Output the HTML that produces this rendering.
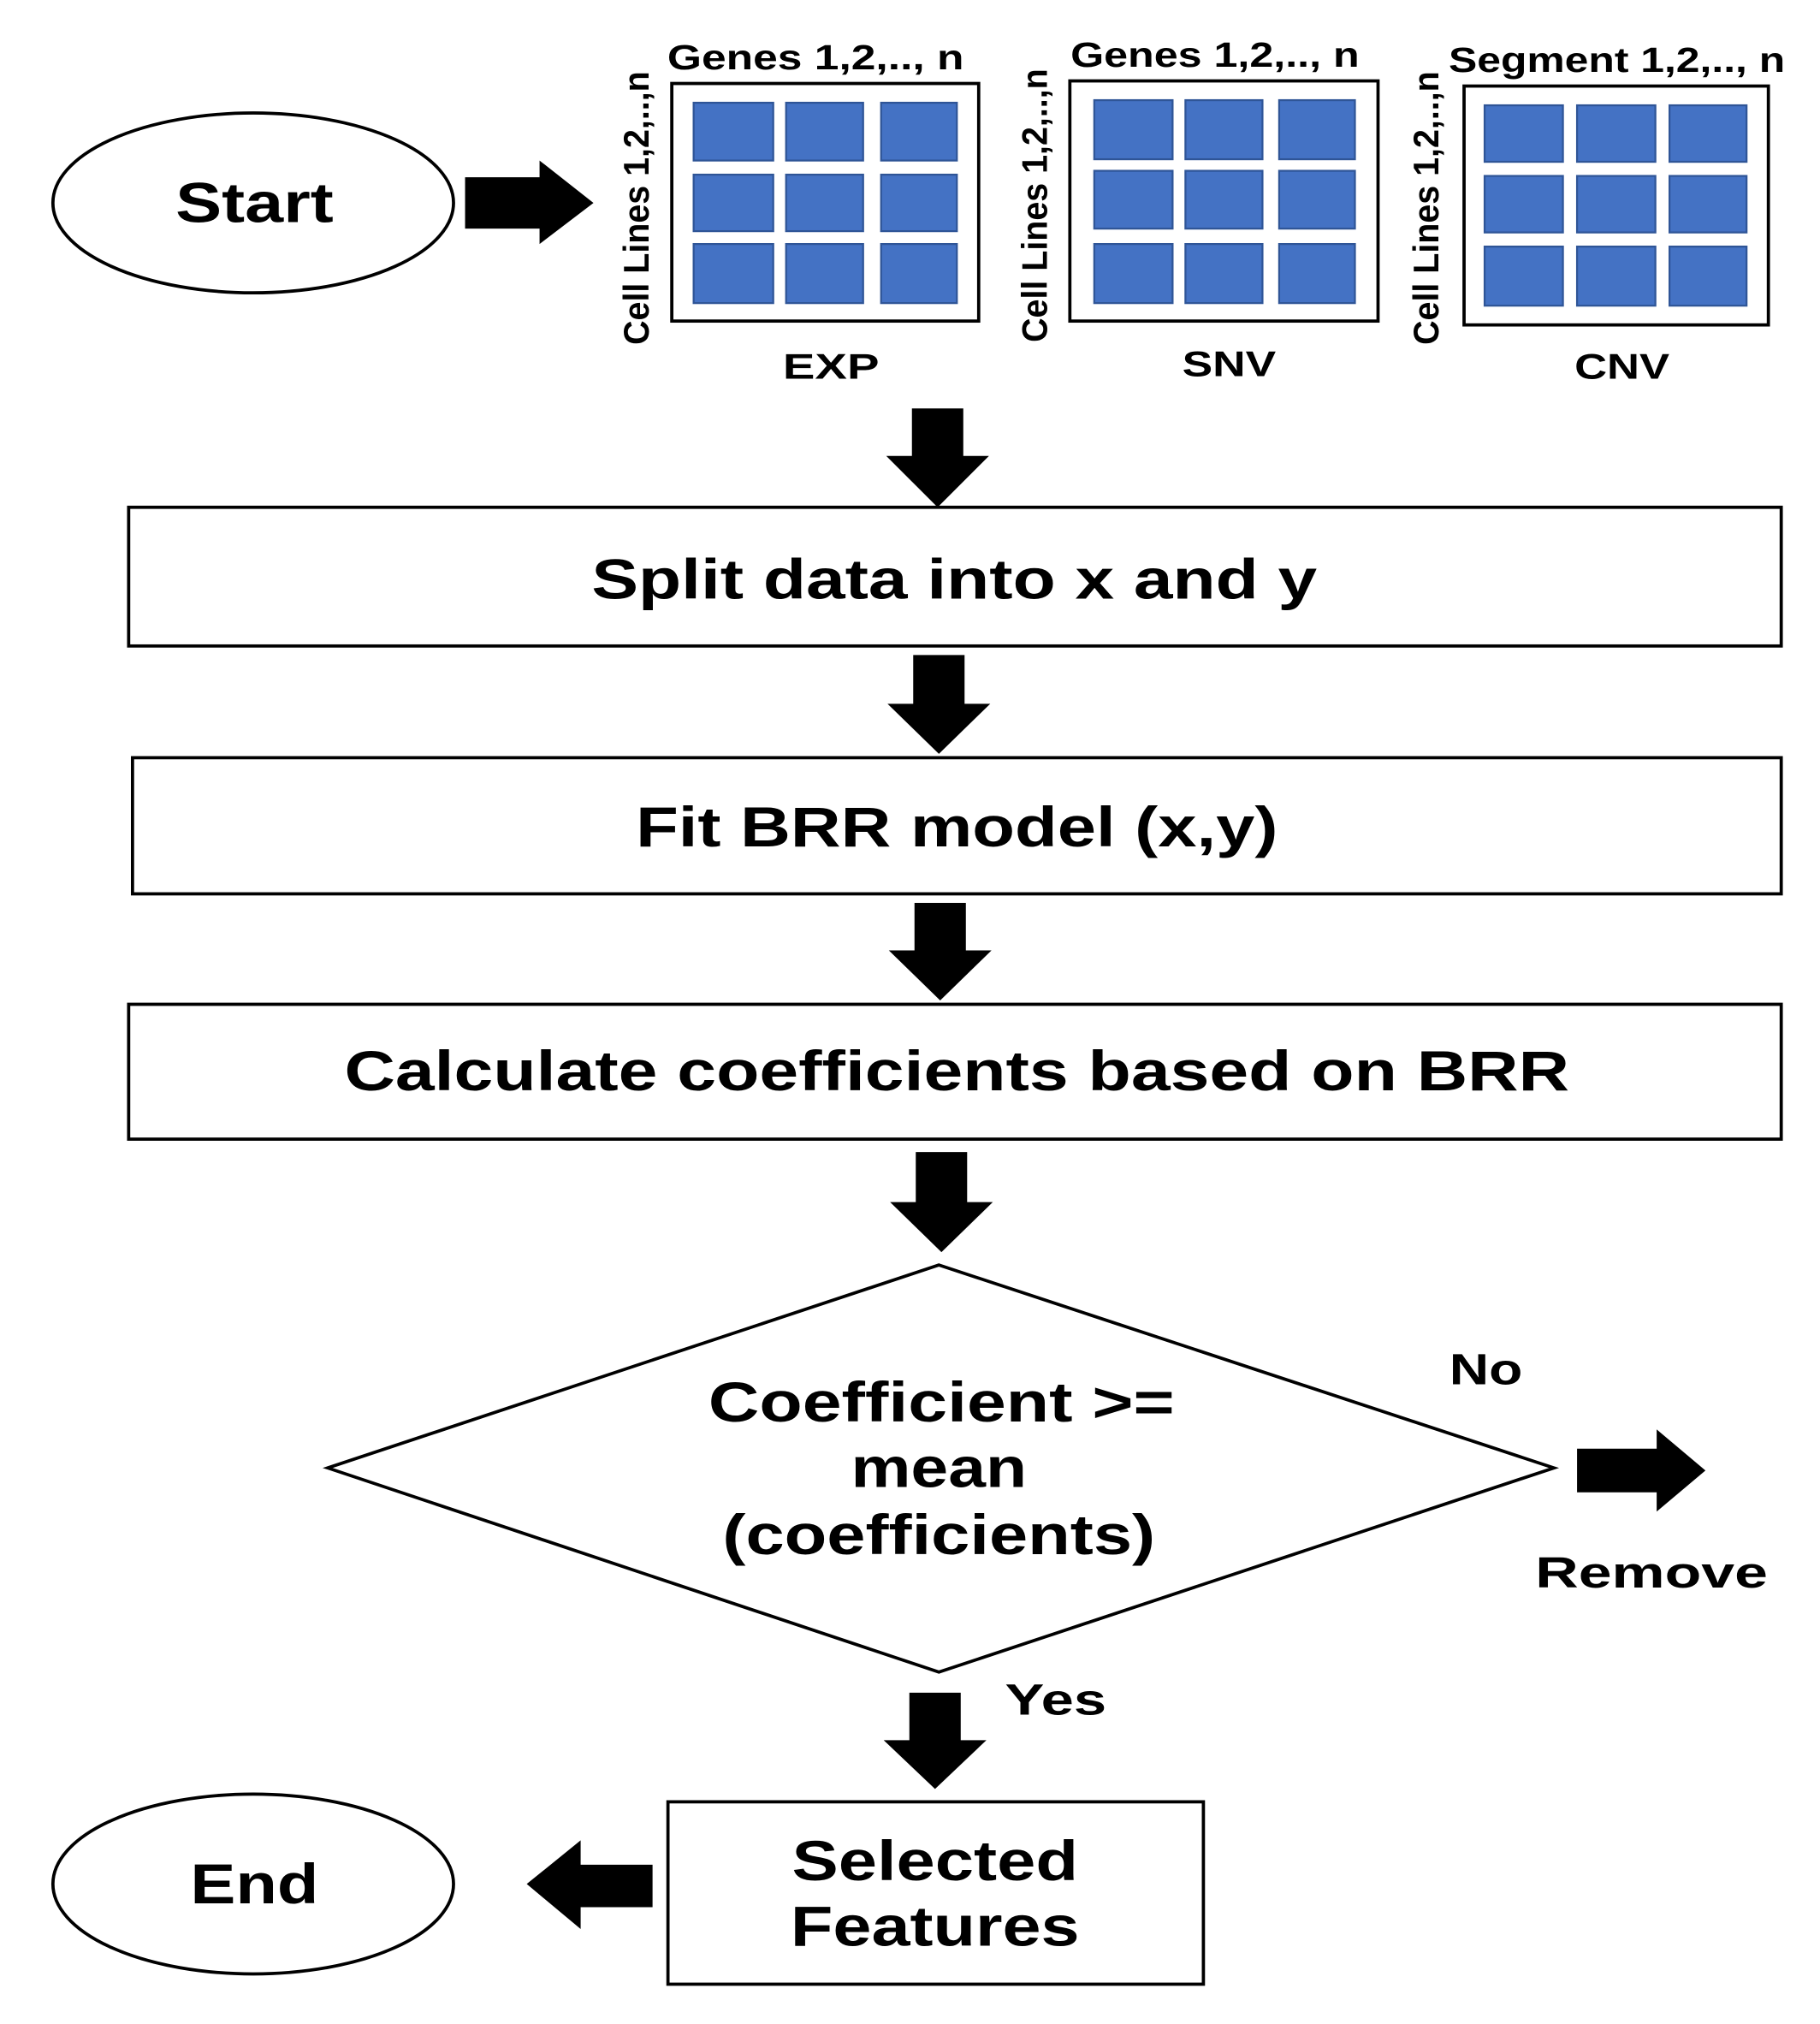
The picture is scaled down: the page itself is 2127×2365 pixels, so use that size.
<!DOCTYPE html>
<html><head><meta charset="utf-8"><style>
html,body{margin:0;padding:0;background:#fff;}
svg{display:block;}
text{font-family:"Liberation Sans",Arial,sans-serif;font-weight:bold;fill:#000;}
.b{fill:#4472C4;stroke:#2F5597;stroke-width:1.5;}
</style></head><body>
<svg width="2127" height="2365" viewBox="0 0 1417 1576" xmlns="http://www.w3.org/2000/svg">
<rect width="1417" height="1576" fill="#fff"/>
<!-- Start -->
<ellipse cx="197" cy="158" rx="156" ry="70" fill="#fff" stroke="#000" stroke-width="2.5"/>
<text x="198" y="173" font-size="44" text-anchor="middle" textLength="123" lengthAdjust="spacingAndGlyphs">Start</text>
<polygon points="362,138 420,138 420,125 462,158 420,190 420,178 362,178" fill="#000"/>
<!-- Matrices -->
<g fill="none" stroke="#000" stroke-width="2.5">
<rect x="523" y="65" width="239" height="185"/>
<rect x="833" y="63" width="240" height="187"/>
<rect x="1140" y="67" width="237" height="186"/>
</g>
<g>
<rect class="b" x="540" y="80" width="62" height="45"/><rect class="b" x="612" y="80" width="60" height="45"/><rect class="b" x="686" y="80" width="59" height="45"/>
<rect class="b" x="540" y="136" width="62" height="44"/><rect class="b" x="612" y="136" width="60" height="44"/><rect class="b" x="686" y="136" width="59" height="44"/>
<rect class="b" x="540" y="190" width="62" height="46"/><rect class="b" x="612" y="190" width="60" height="46"/><rect class="b" x="686" y="190" width="59" height="46"/>

<rect class="b" x="852" y="78" width="61" height="46"/><rect class="b" x="923" y="78" width="60" height="46"/><rect class="b" x="996" y="78" width="59" height="46"/>
<rect class="b" x="852" y="133" width="61" height="45"/><rect class="b" x="923" y="133" width="60" height="45"/><rect class="b" x="996" y="133" width="59" height="45"/>
<rect class="b" x="852" y="190" width="61" height="46"/><rect class="b" x="923" y="190" width="60" height="46"/><rect class="b" x="996" y="190" width="59" height="46"/>

<rect class="b" x="1156" y="82" width="61" height="44"/><rect class="b" x="1228" y="82" width="61" height="44"/><rect class="b" x="1300" y="82" width="60" height="44"/>
<rect class="b" x="1156" y="137" width="61" height="44"/><rect class="b" x="1228" y="137" width="61" height="44"/><rect class="b" x="1300" y="137" width="60" height="44"/>
<rect class="b" x="1156" y="192" width="61" height="46"/><rect class="b" x="1228" y="192" width="61" height="46"/><rect class="b" x="1300" y="192" width="60" height="46"/>
</g>
<text x="635" y="54" font-size="27" text-anchor="middle" textLength="231" lengthAdjust="spacingAndGlyphs">Genes 1,2,.., n</text>
<text x="946" y="52" font-size="27" text-anchor="middle" textLength="225" lengthAdjust="spacingAndGlyphs">Genes 1,2,.., n</text>
<text x="1259" y="56" font-size="27" text-anchor="middle" textLength="262" lengthAdjust="spacingAndGlyphs">Segment 1,2,.., n</text>
<text transform="translate(505,162) rotate(-90)" font-size="28" text-anchor="middle" textLength="213" lengthAdjust="spacingAndGlyphs">Cell Lines 1,2,..,n</text>
<text transform="translate(815,160) rotate(-90)" font-size="28" text-anchor="middle" textLength="213" lengthAdjust="spacingAndGlyphs">Cell Lines 1,2,..,n</text>
<text transform="translate(1120,162) rotate(-90)" font-size="28" text-anchor="middle" textLength="213" lengthAdjust="spacingAndGlyphs">Cell Lines 1,2,..,n</text>
<text x="647" y="295" font-size="28" text-anchor="middle" textLength="75" lengthAdjust="spacingAndGlyphs">EXP</text>
<text x="957" y="293" font-size="28" text-anchor="middle" textLength="73" lengthAdjust="spacingAndGlyphs">SNV</text>
<text x="1263" y="295" font-size="28" text-anchor="middle" textLength="74" lengthAdjust="spacingAndGlyphs">CNV</text>
<!-- arrows down -->
<polygon points="710,318 750,318 750,355 770,355 730,395 690,355 710,355" fill="#000"/>
<rect x="100" y="395" width="1287" height="108" fill="#fff" stroke="#000" stroke-width="2.5"/>
<text x="743" y="466" font-size="44" text-anchor="middle" textLength="565" lengthAdjust="spacingAndGlyphs">Split data into x and y</text>
<polygon points="711,510 751,510 751,548 771,548 731,587 691,548 711,548" fill="#000"/>
<rect x="103" y="590" width="1284" height="106" fill="#fff" stroke="#000" stroke-width="2.5"/>
<text x="745" y="659" font-size="44" text-anchor="middle" textLength="500" lengthAdjust="spacingAndGlyphs">Fit BRR model (x,y)</text>
<polygon points="712,703 752,703 752,740 772,740 732,779 692,740 712,740" fill="#000"/>
<rect x="100" y="782" width="1287" height="105" fill="#fff" stroke="#000" stroke-width="2.5"/>
<text x="745" y="849" font-size="44" text-anchor="middle" textLength="954" lengthAdjust="spacingAndGlyphs">Calculate coefficients based on BRR</text>
<polygon points="713,897 753,897 753,936 773,936 733,975 693,936 713,936" fill="#000"/>
<!-- diamond -->
<polygon points="731,985 1210,1143 731,1302 255,1143" fill="#fff" stroke="#000" stroke-width="2.5"/>
<text x="733" y="1107" font-size="44" text-anchor="middle" textLength="363" lengthAdjust="spacingAndGlyphs">Coefficient &gt;=</text>
<text x="731" y="1158" font-size="44" text-anchor="middle" textLength="137" lengthAdjust="spacingAndGlyphs">mean</text>
<text x="731" y="1210" font-size="44" text-anchor="middle" textLength="337" lengthAdjust="spacingAndGlyphs">(coefficients)</text>
<text x="1157" y="1078" font-size="34" text-anchor="middle" textLength="57" lengthAdjust="spacingAndGlyphs">No</text>
<polygon points="1228,1128 1290,1128 1290,1113 1328,1145 1290,1177 1290,1162 1228,1162" fill="#000"/>
<text x="1286" y="1236" font-size="34" text-anchor="middle" textLength="181" lengthAdjust="spacingAndGlyphs">Remove</text>
<text x="822" y="1335" font-size="34" text-anchor="middle" textLength="79" lengthAdjust="spacingAndGlyphs">Yes</text>
<polygon points="708,1318 748,1318 748,1355 768,1355 728,1393 688,1355 708,1355" fill="#000"/>
<rect x="520" y="1403" width="417" height="142" fill="#fff" stroke="#000" stroke-width="2.5"/>
<text x="728" y="1464" font-size="44" text-anchor="middle" textLength="223" lengthAdjust="spacingAndGlyphs">Selected</text>
<text x="728" y="1515" font-size="44" text-anchor="middle" textLength="225" lengthAdjust="spacingAndGlyphs">Features</text>
<polygon points="508,1452 452,1452 452,1433 410,1467 452,1502 452,1485 508,1485" fill="#000"/>
<ellipse cx="197" cy="1467" rx="156" ry="70" fill="#fff" stroke="#000" stroke-width="2.5"/>
<text x="198" y="1482" font-size="44" text-anchor="middle" textLength="100" lengthAdjust="spacingAndGlyphs">End</text>
</svg>
</body></html>
